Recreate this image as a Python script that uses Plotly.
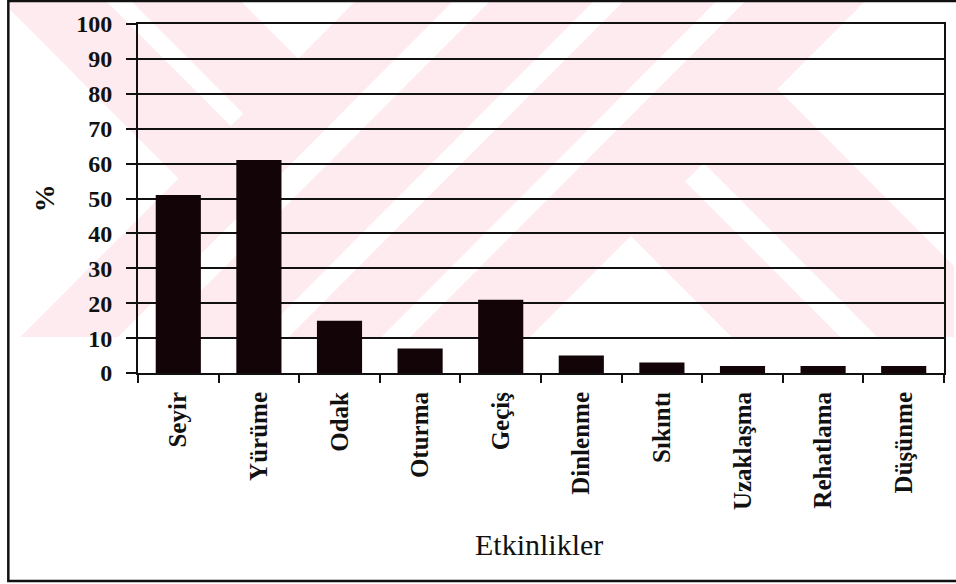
import plotly.graph_objects as go

# ---- data ----
categories = ["Seyir", "Yürüme", "Odak", "Oturma", "Geçiş", "Dinlenme",
              "Sıkıntı", "Uzaklaşma", "Rehatlama", "Düşünme"]
values = [51, 61, 15, 7, 21, 5, 3, 2, 2, 2]
y_tick_values = [0, 10, 20, 30, 40, 50, 60, 70, 80, 90, 100]
y_tick_labels = [str(v) for v in y_tick_values]
x_title = "Etkinlikler"
y_title = "%"

# ---- geometry ----
W, H = 956, 584
L, R, T, B = 138, 10, 24, 211
pw, ph = W - L - R, H - T - B
BASE = H - B


def px(x):
    return (x - L) / pw


def py(y):
    return (BASE - y) / ph


def clip(poly, a, b, c):
    """keep part of polygon with a*x + b*y <= c"""
    out = []
    n = len(poly)
    for i in range(n):
        p, q = poly[i], poly[(i + 1) % n]
        fp = a * p[0] + b * p[1] - c
        fq = a * q[0] + b * q[1] - c
        if fp <= 0:
            out.append(p)
        if (fp < 0 < fq) or (fq < 0 < fp):
            t = fp / (fp - fq)
            out.append((p[0] + t * (q[0] - p[0]), p[1] + t * (q[1] - p[1])))
    return out


def band(kind, lo, hi, extra=None):
    poly = [(9, 0), (956, 0), (956, 337), (9, 337)]
    if kind == "/":
        poly = clip(poly, -1, -1, -lo)
        poly = clip(poly, 1, 1, hi)
    else:
        poly = clip(poly, -1, 1, -lo)
        poly = clip(poly, 1, -1, hi)
    if extra:
        for (a, b, c) in extra:
            poly = clip(poly, a, b, c)
    return poly


# faint pink watermark of the scanned page
wm_polys = [
    band("\\", 0, 105, [(1, 1, 455)]),
    band("\\", 130, 240, [(1, 1, 455)]),
    band("/", 357, 455),
    band("/", 492, 596),
    band("/", 626, 719),
    band("/", 748, 868),
    band("\\", 396, 505, [(-1, -1, -868)]),
    band("\\", 542, 690, [(-1, -1, -868)]),
]

shapes = []
for poly in wm_polys:
    if len(poly) < 3:
        continue
    path = "M " + " L ".join(f"{px(x):.5f},{py(y):.5f}" for x, y in poly) + " Z"
    shapes.append(dict(type="path", xref="paper", yref="paper", path=path,
                       fillcolor="#fdebef", line=dict(width=0), layer="below"))

# outer frame (right side runs off the image)
shapes.append(dict(type="rect", xref="paper", yref="paper",
                   x0=px(8), x1=px(975), y0=py(581), y1=py(1),
                   line=dict(color="#111111", width=2.5), layer="above"))

serif = "Liberation Serif"

fig = go.Figure(go.Bar(x=categories, y=values, marker=dict(color="#130407", line=dict(width=0))))

fig.update_layout(
    width=W, height=H,
    margin=dict(l=L, r=R, t=T, b=B, pad=0),
    paper_bgcolor="white", plot_bgcolor="rgba(0,0,0,0)",
    bargap=0.44,
    showlegend=False,
    shapes=shapes,
    font=dict(family=serif, color="#111111"),
    xaxis=dict(
        showline=True, linecolor="#111111", linewidth=2, mirror=True,
        ticks="outside", tickson="boundaries", ticklen=8, tickwidth=2, tickcolor="#111111",
        ticklabelstandoff=7,
        tickangle=-90, tickfont=dict(family=serif, size=25, color="#111111", weight="bold"),
        showgrid=False,
    ),
    yaxis=dict(
        range=[0, 100], tickvals=y_tick_values, ticktext=y_tick_labels,
        showline=True, linecolor="#111111", linewidth=2, mirror=True,
        ticks="outside", ticklen=10, tickwidth=2, tickcolor="#111111",
        ticklabelstandoff=9,
        showgrid=True, gridcolor="#111111", gridwidth=2, zeroline=False,
        tickfont=dict(family=serif, size=24, color="#111111", weight="bold"),
    ),
    annotations=[
        dict(text=x_title, xref="paper", yref="paper", x=px(540), y=py(544),
             xanchor="center", yanchor="middle", showarrow=False,
             font=dict(family=serif, size=30, color="#111111")),
        dict(text=y_title, xref="paper", yref="paper", x=px(44), y=py(198),
             xanchor="center", yanchor="middle", showarrow=False, textangle=-90,
             font=dict(family=serif, size=28, color="#111111", weight="bold")),
    ],
)

fig.write_html("out.html")
